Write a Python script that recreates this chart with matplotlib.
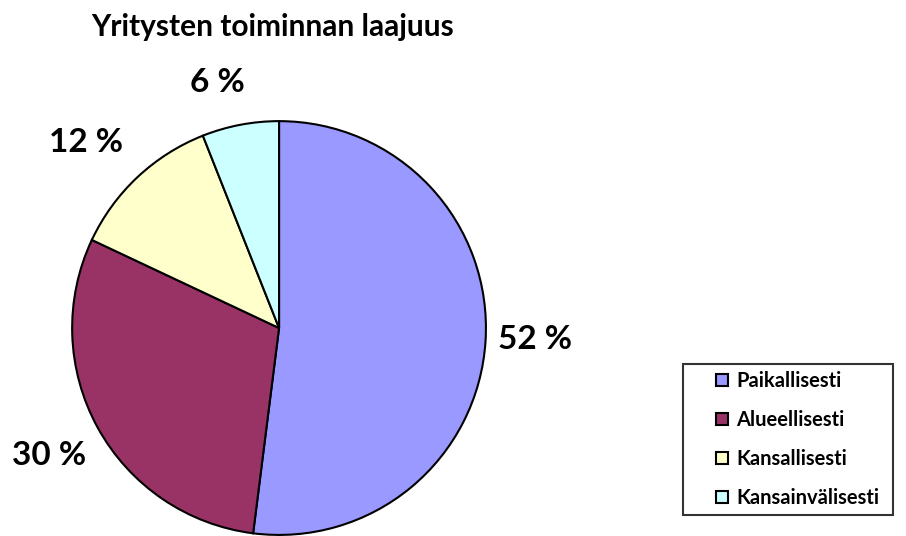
import numpy as np
import matplotlib.pyplot as plt
from matplotlib.patches import Patch, Rectangle
from matplotlib.legend_handler import HandlerPatch

# data
categories = ['Paikallisesti', 'Alueellisesti', 'Kansallisesti', 'Kansainvälisesti']
shares = [52, 30, 12, 6]
colors = ['#9999FF', '#993366', '#FFFFCC', '#CCFFFF']
title = 'Yritysten toiminnan laajuus'

# percentage label placement: distance (pie radii) and small angle tweak (deg)
label_dist = [1.237, 1.27, 1.295, 1.225]
label_shift = [1.1, 0.3, 2.9, 3.3]

plt.rcParams['font.family'] = ['Lato', 'DejaVu Sans']
plt.rcParams['font.weight'] = 'bold'

fig = plt.figure(figsize=(9.06, 5.36), dpi=100)
ax = fig.add_axes([0.0795, 0.002, 0.457, 0.772])

wedges, texts, autotexts = ax.pie(
    shares, colors=colors, startangle=90, counterclock=False,
    autopct=lambda p: '%d %%' % round(p), pctdistance=1.24,
    wedgeprops=dict(edgecolor='black', linewidth=1.5),
    textprops=dict(fontsize=24, fontweight='bold'))
for w, t, d, s in zip(wedges, autotexts, label_dist, label_shift):
    ang = np.deg2rad((w.theta1 + w.theta2) / 2 + s)
    t.set_position((d * np.cos(ang), d * np.sin(ang)))
ax.set_xlim(-1, 1)
ax.set_ylim(-1, 1)
ax.set_aspect('equal')

fig.text(273 / 906, 1 - 27 / 536, title, ha='center', va='center',
         fontsize=21.5, fontweight='bold')


# square legend marker drawn at the right end of the handle box
def square_marker(legend, orig_handle, xdescent, ydescent, width, height, fontsize):
    s = 8.6
    return Rectangle((-xdescent + width - s, -ydescent + (height - s) / 2), s, s)


handles = [Patch(facecolor=c, edgecolor='black', linewidth=1.5) for c in colors]
leg = fig.legend(handles, categories, loc='lower left',
                 bbox_to_anchor=(0.754, 0.039, 0.232, 0.278), mode='expand',
                 prop=dict(size=14.5, weight='bold'), frameon=True, fancybox=False,
                 handlelength=1.85, handleheight=0.6, handletextpad=0.4,
                 labelspacing=0.93, borderpad=0.37, borderaxespad=0,
                 handler_map={Patch: HandlerPatch(patch_func=square_marker)})
leg.get_frame().set_edgecolor('black')
leg.get_frame().set_linewidth(1.5)

fig.savefig('out.png', dpi=100)
